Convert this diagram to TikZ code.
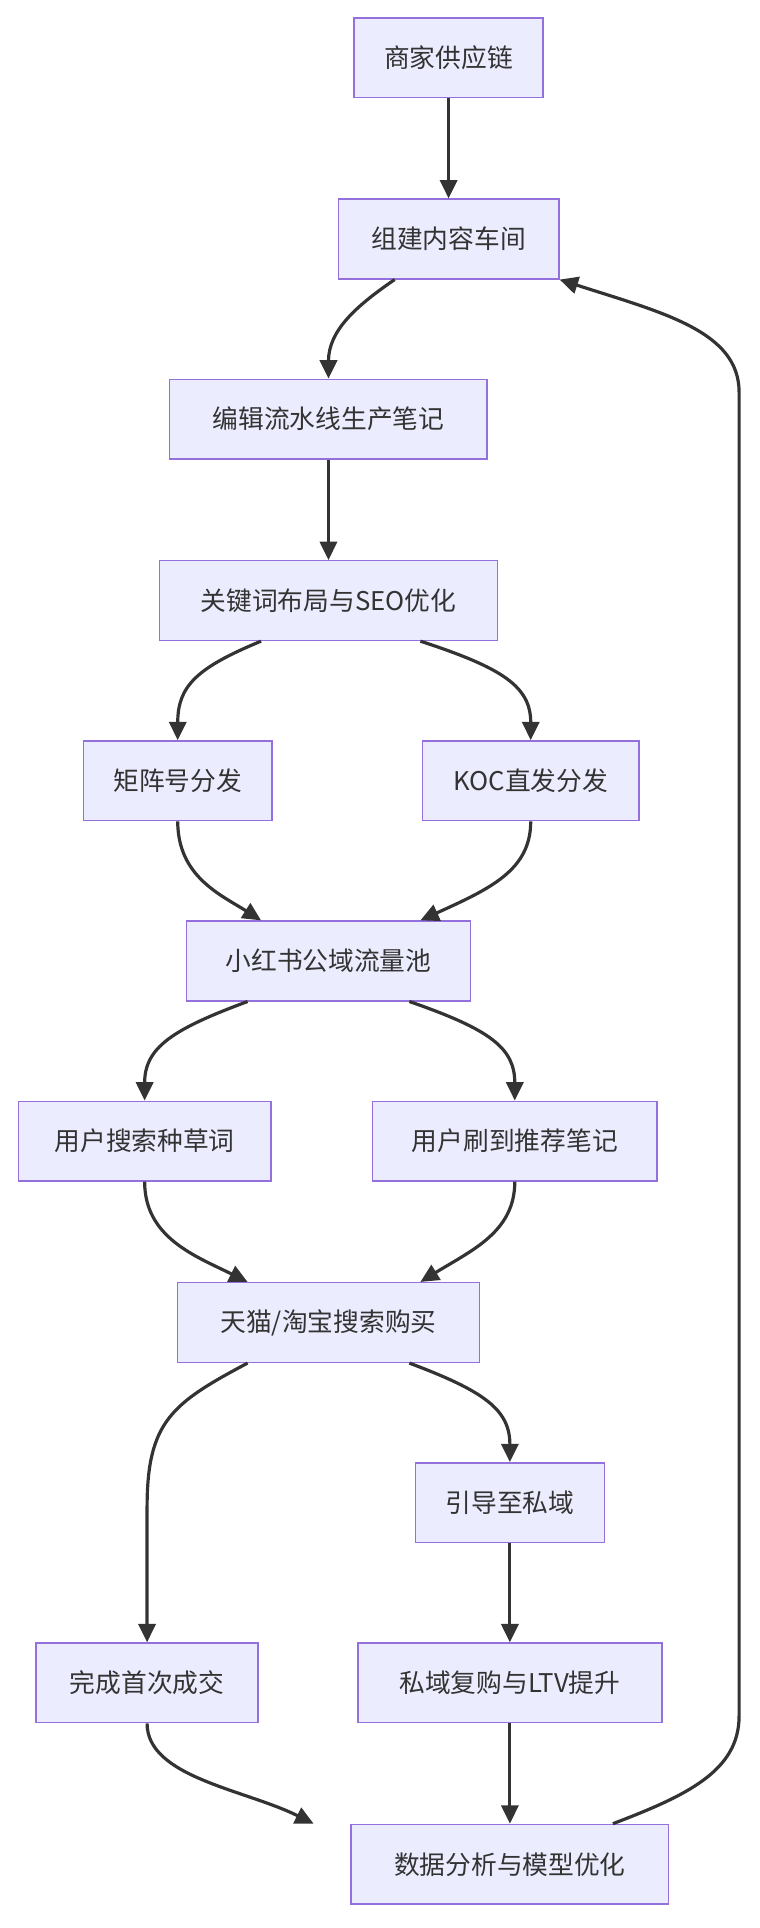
\documentclass[tikz,border=0pt]{standalone}
\usepackage{fontspec}
\setmainfont{Noto Sans CJK SC}
\usetikzlibrary{arrows.meta}
\definecolor{nfill}{HTML}{ECECFF}
\definecolor{nline}{HTML}{9370DB}
\definecolor{eline}{HTML}{333333}
\begin{document}
\begin{tikzpicture}[x=1pt,y=-1pt,
  box/.style={draw=nline,fill=nfill,line width=1.2pt,minimum height=65pt,inner xsep=13pt,font=\fontsize{21}{24}\selectfont,text=eline},
  e/.style={draw=eline,line width=2.6pt,-{Triangle[length=15pt,width=14pt]}}]
\useasboundingbox (0,0) rectangle (620,1573);
\node[box,minimum width=154] (n1) at (366,47) {商家供应链};
\node[box,minimum width=180] (n2) at (366,195) {组建内容车间};
\node[box,minimum width=259] (n3) at (268,342) {编辑流水线生产笔记};
\node[box,minimum width=276] (n4) at (268,490) {关键词布局与SEO优化};
\node[box,minimum width=154] (n5) at (145,637) {矩阵号分发};
\node[box,minimum width=177] (n6) at (433,637) {KOC直发分发};
\node[box,minimum width=232] (n7) at (268,784) {小红书公域流量池};
\node[box,minimum width=206] (n8) at (118,931) {用户搜索种草词};
\node[box,minimum width=232] (n9) at (420,931) {用户刷到推荐笔记};
\node[box,minimum width=246] (n10) at (268,1079) {天猫/淘宝搜索购买};
\node[box,minimum width=154] (n11) at (416,1226) {引导至私域};
\node[box,minimum width=181] (n12) at (120,1373) {完成首次成交};
\node[box,minimum width=248] (n13) at (416,1373) {私域复购与LTV提升};
\node[box,minimum width=259] (n14) at (416,1521) {数据分析与模型优化};
\draw[e] (n1) -- (n2);
\draw[e] ([xshift=-44]n2.south) .. controls (290,250) and (268,270) .. (n3.north);
\draw[e] (n3) -- (n4);
\draw[e] ([xshift=-55]n4.south) .. controls (160,545) and (145,560) .. (n5.north);
\draw[e] ([xshift=75]n4.south) .. controls (410,545) and (433,560) .. (n6.north);
\draw[e] (n5.south) .. controls (145,715) and (180,730) .. ([xshift=-55]n7.north);
\draw[e] (n6.south) .. controls (433,710) and (400,725) .. ([xshift=75]n7.north);
\draw[e] ([xshift=-66]n7.south) .. controls (140,840) and (118,855) .. (n8.north);
\draw[e] ([xshift=66]n7.south) .. controls (400,840) and (420,855) .. (n9.north);
\draw[e] (n8.south) .. controls (118,1010) and (160,1025) .. ([xshift=-66]n10.north);
\draw[e] (n9.south) .. controls (420,1005) and (385,1020) .. ([xshift=75]n10.north);
\draw[e] ([xshift=-66]n10.south) .. controls (140,1145) and (120,1160) .. (120,1230) -- (n12.north);
\draw[e] ([xshift=66]n10.south) .. controls (395,1135) and (416,1150) .. (n11.north);
\draw[e] (n11) -- (n13);
\draw[e] (n12.south) .. controls (120,1450) and (200,1460) .. ([xshift=-30]n14.north west);
\draw[e] (n13) -- (n14);
\coordinate (r1) at (603,1400);
\coordinate (r2) at (603,320);
\draw[e] ([xshift=84]n14.north) .. controls (560,1465) and (603,1445) .. (r1) -- (r2) .. controls (603,270) and (540,255) .. (n2.south east);
\end{tikzpicture}
\end{document}
